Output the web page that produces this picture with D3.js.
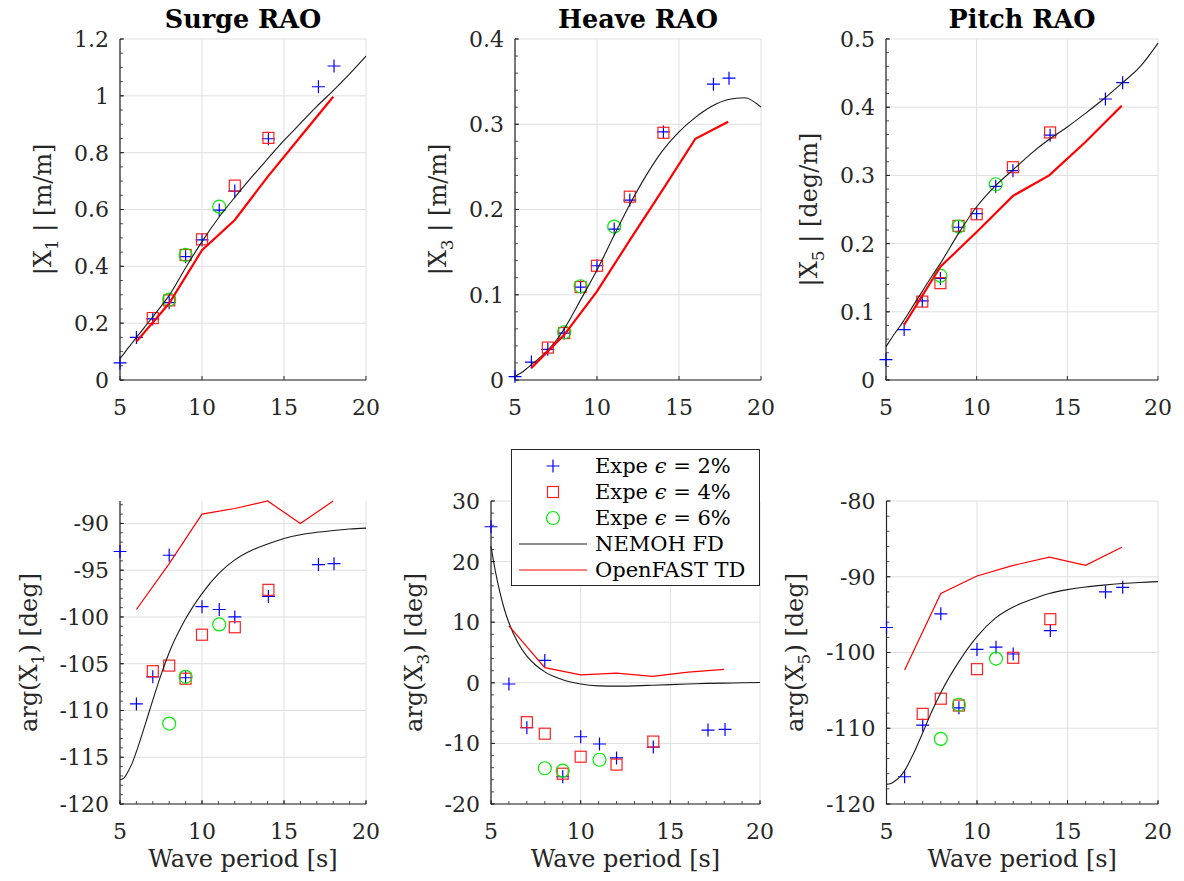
<!DOCTYPE html>
<html><head><meta charset="utf-8">
<script src="https://cdn.jsdelivr.net/npm/d3@7"></script>
<style>
html,body{margin:0;padding:0;background:#fff;}
text{font-family:"DejaVu Serif",serif;fill:#262626;}
</style></head>
<body><svg id="chart" width="1184" height="881"></svg>
<script>
// ---------- data ----------
const tExp2 = [5,6,7,8,9,10,11.05,12,14.05,17.1,18.05];
const tExp4 = [7,8,9,10,12,14.05];
const tExp6 = [8,9,11.05];
const tNemoh = [5,5.25,5.5,5.75,6,6.5,7,7.5,8,9,10,11,12,13,14,15,16,17,18,19,20];
const tOpenfast = [6,8,10,12,14,16,18];

const surgeMagExp2 = [0.06,0.15,0.215,0.272,0.434,0.493,0.598,0.665,0.849,1.032,1.105];
const surgeMagExp4 = [0.218,0.28,0.44,0.495,0.684,0.852];
const surgeMagExp6 = [0.283,0.44,0.61];
const surgeMagNemoh = [0.076,0.094,0.113,0.131,0.15,0.186,0.222,0.259,0.298,0.395,0.487,0.57,0.643,0.712,0.778,0.843,0.903,0.963,1.018,1.077,1.14];
const surgeMagOpenfast = [0.135,0.27,0.457,0.563,0.715,0.856,0.997];

const heaveMagExp2 = [0.004,0.021,0.036,0.055,0.109,0.134,0.177,0.211,0.291,0.347,0.354];
const heaveMagExp4 = [0.038,0.055,0.109,0.134,0.215,0.29];
const heaveMagExp6 = [0.056,0.11,0.18];
const heaveMagNemoh = [0.004,0.007,0.01,0.014,0.018,0.026,0.035,0.046,0.06,0.094,0.129,0.168,0.206,0.24,0.269,0.291,0.308,0.321,0.329,0.331,0.32];
const heaveMagOpenfast = [0.014,0.053,0.104,0.164,0.223,0.283,0.303];

const pitchMagExp2 = [0.03,0.074,0.116,0.149,0.224,0.244,0.284,0.307,0.359,0.412,0.436];
const pitchMagExp4 = [0.115,0.142,0.226,0.243,0.312,0.363];
const pitchMagExp6 = [0.153,0.225,0.287];
const pitchMagNemoh = [0.049,0.059,0.069,0.078,0.088,0.109,0.13,0.151,0.171,0.215,0.254,0.284,0.308,0.332,0.353,0.371,0.391,0.412,0.435,0.459,0.494];
const pitchMagOpenfast = [0.081,0.166,0.217,0.27,0.3,0.349,0.402];

const surgePhaseExp2 = [-93.0,-109.3,-106.4,-93.4,-106.5,-98.9,-99.2,-100.0,-97.8,-94.4,-94.3];
const surgePhaseExp4 = [-105.8,-105.2,-106.6,-101.9,-101.1,-97.1];
const surgePhaseExp6 = [-111.4,-106.4,-100.8];
const surgePhaseNemoh = [-117.4,-117.2,-116.5,-115.6,-114.4,-111.7,-108.9,-106.2,-103.8,-100.2,-97.5,-95.4,-93.9,-92.9,-92.2,-91.6,-91.2,-90.95,-90.75,-90.6,-90.5];
const surgePhaseOpenfast = [-99.2,-94.3,-89.0,-88.4,-87.6,-90.0,-87.6];

const heavePhaseExp2 = [25.75,-0.2,-7.4,3.7,-15.5,-8.9,-10.1,-12.4,-10.6,-7.8,-7.7];
const heavePhaseExp4 = [-6.5,-8.4,-15.0,-12.2,-13.5,-9.7];
const heavePhaseExp6 = [-14.1,-14.5,-12.7];
const heavePhaseNemoh = [22.5,18.3,14.9,12.1,9.9,6.6,4.4,2.9,1.8,0.5,-0.2,-0.5,-0.55,-0.5,-0.4,-0.3,-0.2,-0.1,-0.05,0,0.05];
const heavePhaseOpenfast = [9.4,2.5,1.3,1.6,1.05,1.75,2.2];

const pitchPhaseExp2 = [-96.7,-116.4,-109.6,-94.9,-107.3,-99.6,-99.3,-100.2,-97.1,-92.0,-91.4];
const pitchPhaseExp4 = [-108.1,-106.1,-107.0,-102.2,-100.7,-95.6];
const pitchPhaseExp6 = [-111.4,-106.9,-100.8];
const pitchPhaseNemoh = [-117.4,-117.3,-116.9,-116.4,-115.6,-113.3,-110.6,-107.8,-105.3,-101.2,-97.9,-95.5,-94.0,-93.0,-92.2,-91.7,-91.35,-91.1,-90.9,-90.75,-90.65];
const pitchPhaseOpenfast = [-102.3,-92.2,-89.9,-88.5,-87.4,-88.5,-86.1];

const titles = ["Surge RAO","Heave RAO","Pitch RAO"];
const xTicks = [5,10,15,20];
const xLabel = "Wave period [s]";
const legendLabels = ["Expe \u03f5 = 2%","Expe \u03f5 = 4%","Expe \u03f5 = 6%","NEMOH FD","OpenFAST TD"];

// ---------- layout ----------
const svg = d3.select("#chart");
svg.append("rect").attr("width",1184).attr("height",881).attr("fill","#fff");

const panels = [
  {x:[120,366], y:[380,39], dom:[0,1.2], ticks:[0,0.2,0.4,0.6,0.8,1,1.2], minor:0.05, lab:["|X","1"," | [m/m]"], top:true, red:2.2,
   e2:surgeMagExp2,e4:surgeMagExp4,e6:surgeMagExp6,nem:surgeMagNemoh,of:surgeMagOpenfast,title:titles[0]},
  {x:[515,761], y:[380,39], dom:[0,0.4], ticks:[0,0.1,0.2,0.3,0.4], minor:0.02, lab:["|X","3"," | [m/m]"], top:true, red:2.2,
   e2:heaveMagExp2,e4:heaveMagExp4,e6:heaveMagExp6,nem:heaveMagNemoh,of:heaveMagOpenfast,title:titles[1]},
  {x:[886,1158], y:[380,39], dom:[0,0.5], ticks:[0,0.1,0.2,0.3,0.4,0.5], minor:0.02, lab:["|X","5"," | [deg/m]"], top:true, red:2.2,
   e2:pitchMagExp2,e4:pitchMagExp4,e6:pitchMagExp6,nem:pitchMagNemoh,of:pitchMagOpenfast,title:titles[2]},
  {x:[120,366], y:[804,501], dom:[-120,-87.6], ticks:[-120,-115,-110,-105,-100,-95,-90], minor:1, lab:["arg(X","1",") [deg]"], top:false, red:1.2,
   e2:surgePhaseExp2,e4:surgePhaseExp4,e6:surgePhaseExp6,nem:surgePhaseNemoh,of:surgePhaseOpenfast},
  {x:[491,760], y:[804,501], dom:[-20,30], ticks:[-20,-10,0,10,20,30], minor:2, lab:["arg(X","3",") [deg]"], top:false, red:1.2,
   e2:heavePhaseExp2,e4:heavePhaseExp4,e6:heavePhaseExp6,nem:heavePhaseNemoh,of:heavePhaseOpenfast},
  {x:[886.5,1158], y:[804,501], dom:[-120,-80], ticks:[-120,-110,-100,-90,-80], minor:2, lab:["arg(X","5",") [deg]"], top:false, red:1.2,
   e2:pitchPhaseExp2,e4:pitchPhaseExp4,e6:pitchPhaseExp6,nem:pitchPhaseNemoh,of:pitchPhaseOpenfast}
];

const axisColor = "#262626", gridColor = "#dfdfdf";
const fmt = v => String(+v.toFixed(2));

function plusPath(s){return `M${-s},0H${s}M0,${-s}V${s}`;}

panels.forEach(p => {
  const xs = d3.scaleLinear().domain([5,20]).range(p.x);
  const ys = d3.scaleLinear().domain(p.dom).range(p.y);
  const g = svg.append("g");
  const y0 = p.y[0], y1 = p.y[1], x0 = p.x[0], x1 = p.x[1];
  // grid
  g.selectAll(".gx").data(xTicks).join("line")
    .attr("x1",d=>xs(d)).attr("x2",d=>xs(d)).attr("y1",y0).attr("y2",y1)
    .attr("stroke",gridColor).attr("stroke-width",1);
  g.selectAll(".gy").data(p.ticks).join("line")
    .attr("x1",x0).attr("x2",x1).attr("y1",d=>ys(d)).attr("y2",d=>ys(d))
    .attr("stroke",gridColor).attr("stroke-width",1);
  // minor ticks y
  const minorY = d3.range(p.dom[0], p.dom[1]+1e-9, p.minor).map(v=>+v.toFixed(4));
  g.selectAll(".my").data(minorY).join("line")
    .attr("x1",x0).attr("x2",x0+3).attr("y1",d=>ys(d)).attr("y2",d=>ys(d))
    .attr("stroke",axisColor).attr("stroke-width",0.8);
  if(!p.top){
    g.selectAll(".mx").data(d3.range(5,20.5,1)).join("line")
      .attr("x1",d=>xs(d)).attr("x2",d=>xs(d)).attr("y1",y0).attr("y2",y0-3)
      .attr("stroke",axisColor).attr("stroke-width",0.8);
  }
  // major ticks
  g.selectAll(".ty").data(p.ticks).join("line")
    .attr("x1",x0).attr("x2",x0+4).attr("y1",d=>ys(d)).attr("y2",d=>ys(d))
    .attr("stroke",axisColor).attr("stroke-width",1);
  g.selectAll(".tx").data(xTicks).join("line")
    .attr("x1",d=>xs(d)).attr("x2",d=>xs(d)).attr("y1",y0).attr("y2",y0-4)
    .attr("stroke",axisColor).attr("stroke-width",1);
  // axes lines
  g.append("line").attr("x1",x0).attr("x2",x0).attr("y1",y0+0.5).attr("y2",y1).attr("stroke",axisColor).attr("stroke-width",1.2);
  g.append("line").attr("x1",x0).attr("x2",x1).attr("y1",y0).attr("y2",y0).attr("stroke",axisColor).attr("stroke-width",1.2);
  // tick labels
  const yl = g.selectAll(".yl").data(p.ticks).join("text")
    .attr("x",x0-11).attr("y",d=>ys(d)).attr("dy","0.36em")
    .attr("text-anchor","end").attr("font-size",22).text(d=>fmt(d));
  g.selectAll(".xl").data(xTicks).join("text")
    .attr("x",d=>xs(d)).attr("y",y0+35)
    .attr("text-anchor","middle").attr("font-size",22).text(d=>d);
  // y label
  let minX = 1e9; yl.each(function(){minX=Math.min(minX,this.getBBox().x);});
  const lx = minX-23, ly = (y0+y1)/2;
  const t = g.append("text").attr("transform",`translate(${lx},${ly}) rotate(-90)`)
    .attr("text-anchor","middle").attr("font-size",24);
  t.append("tspan").text(p.lab[0]);
  t.append("tspan").attr("font-size",17).attr("dy",7).text(p.lab[1]);
  t.append("tspan").attr("dy",-7).text(p.lab[2]);
  // x label / title
  if(!p.top){
    g.append("text").attr("x",(x0+x1)/2).attr("y",y0+63).attr("text-anchor","middle")
      .attr("font-size",24).text(xLabel);
  } else {
    g.append("text").attr("x",(x0+x1)/2).attr("y",28).attr("text-anchor","middle")
      .attr("font-size",25.5).attr("font-weight","bold").style("fill","#000").text(p.title);
  }
  // data: exp 2%
  g.selectAll(".p2").data(tExp2.map((t,i)=>[t,p.e2[i]])).join("path")
    .attr("transform",d=>`translate(${xs(d[0])},${ys(d[1])})`)
    .attr("d",plusPath(6.5)).attr("stroke","#0000ff").attr("stroke-width",1.2).attr("fill","none");
  g.selectAll(".p4").data(tExp4.map((t,i)=>[t,p.e4[i]])).join("rect")
    .attr("x",d=>xs(d[0])-5.5).attr("y",d=>ys(d[1])-5.5).attr("width",11).attr("height",11)
    .attr("stroke","#ff2020").attr("stroke-width",1.2).attr("fill","none");
  g.selectAll(".p6").data(tExp6.map((t,i)=>[t,p.e6[i]])).join("circle")
    .attr("cx",d=>xs(d[0])).attr("cy",d=>ys(d[1])).attr("r",6.5)
    .attr("stroke","#00ee00").attr("stroke-width",1.2).attr("fill","none");
  const line = d3.line().x(d=>xs(d[0])).y(d=>ys(d[1]));
  g.append("path").datum(tNemoh.map((t,i)=>[t,p.nem[i]]))
    .attr("d",line.curve(d3.curveMonotoneX)).attr("stroke","#1a1a1a").attr("stroke-width",1.1).attr("fill","none");
  g.append("path").datum(tOpenfast.map((t,i)=>[t,p.of[i]]))
    .attr("d",line.curve(d3.curveLinear)).attr("stroke","#ff0000").attr("stroke-width",p.red).attr("fill","none");
});

// ---------- legend ----------
const lg = svg.append("g");
lg.append("rect").attr("x",511.5).attr("y",449.5).attr("width",248).attr("height",136)
  .attr("fill","#fff").attr("stroke",axisColor).attr("stroke-width",1);
const rowY = d3.scalePoint().domain(d3.range(5)).range([466,570]);
legendLabels.forEach((lab,i)=>{
  const y = rowY(i);
  if(i===0) lg.append("path").attr("transform",`translate(553,${y})`).attr("d",plusPath(6.5))
      .attr("stroke","#0000ff").attr("stroke-width",1.2).attr("fill","none");
  if(i===1) lg.append("rect").attr("x",553-5.5).attr("y",y-5.5).attr("width",11).attr("height",11)
      .attr("stroke","#ff2020").attr("stroke-width",1.2).attr("fill","none");
  if(i===2) lg.append("circle").attr("cx",553).attr("cy",y).attr("r",6.5)
      .attr("stroke","#00ee00").attr("stroke-width",1.2).attr("fill","none");
  if(i===3) lg.append("line").attr("x1",519).attr("x2",587).attr("y1",y).attr("y2",y)
      .attr("stroke","#1a1a1a").attr("stroke-width",1.1);
  if(i===4) lg.append("line").attr("x1",519).attr("x2",587).attr("y1",y).attr("y2",y)
      .attr("stroke","#ff0000").attr("stroke-width",1.2);
  const tx = lg.append("text").attr("x",595).attr("y",y+7).attr("font-size",21).style("fill","#000");
  if(i<3){
    tx.append("tspan").text("Expe ");
    tx.append("tspan").attr("font-style","italic").text("\u03f5");
    tx.append("tspan").text(lab.slice(6));
  } else tx.text(lab);
});
</script></body></html>
